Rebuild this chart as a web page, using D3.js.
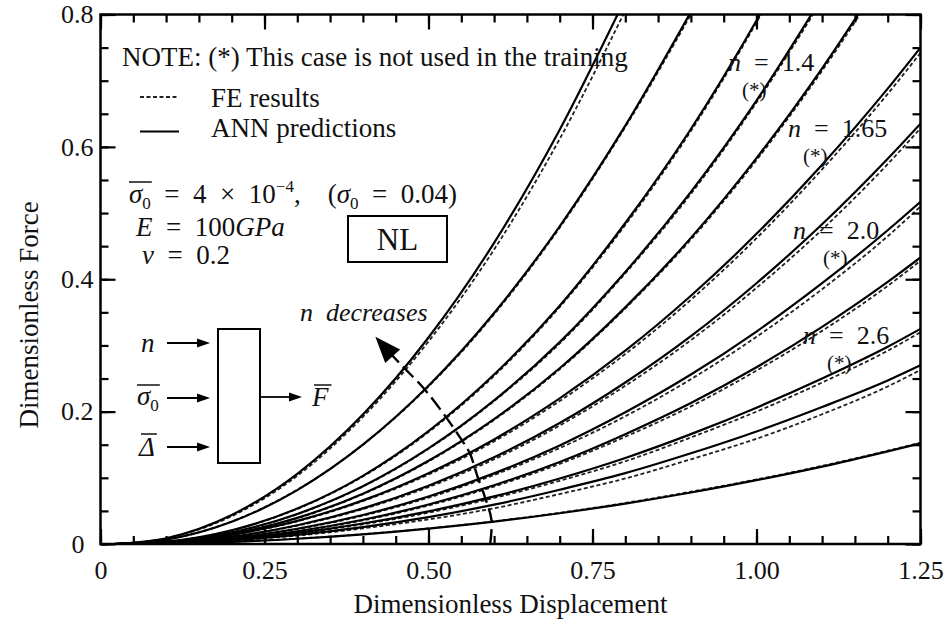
<!DOCTYPE html>
<html><head><meta charset="utf-8">
<script src="https://cdn.jsdelivr.net/npm/d3@7"></script>
<style>
body{margin:0;background:#fff}
text{font-family:"Liberation Serif","Times New Roman",serif;fill:#111;white-space:pre}
</style>
</head><body><svg id="c" width="948" height="622"></svg>
<script>
// ---------- data ----------
const disp = [0.02,0.1,0.2,0.3,0.4,0.5,0.6,0.7,0.8,0.9,1.0,1.1,1.2,1.25];
// ANN predictions (solid), steepest curve first
const ann01 = [0,0.0087,0.0439,0.106,0.1955,0.312,0.455,0.626,0.824];
const ann02 = [0,0.0066,0.0336,0.0814,0.150,0.239,0.349,0.480,0.632,0.804];
const ann03 = [0,0.0036,0.0207,0.0535,0.103,0.1705,0.256,0.360,0.485,0.627,0.791,0.975];
const ann04 = [0,0.0031,0.0175,0.0454,0.0874,0.1445,0.217,0.305,0.411,0.532,0.670,0.826];
const ann05 = [0,0.0027,0.0152,0.0395,0.076,0.1257,0.1887,0.2655,0.3575,0.4625,0.583,0.7187,0.869];
const ann06 = [0,0.0026,0.0140,0.0350,0.0659,0.107,0.158,0.220,0.292,0.375,0.4686,0.573,0.688,0.750];
const ann07 = [0,0.0020,0.0112,0.0284,0.0538,0.088,0.1309,0.1827,0.244,0.314,0.394,0.483,0.582,0.635];
const ann08 = [0,0.0017,0.0091,0.0231,0.0439,0.0717,0.1067,0.149,0.199,0.256,0.321,0.394,0.474,0.517];
const ann09 = [0,0.0014,0.0076,0.0193,0.0366,0.0597,0.0888,0.124,0.166,0.213,0.267,0.328,0.396,0.433];
const ann10 = [0,0.0014,0.0070,0.0168,0.031,0.0493,0.0720,0.0990,0.130,0.166,0.206,0.250,0.298,0.325];
const ann11 = [0,0.0011,0.0057,0.0138,0.0255,0.0406,0.0594,0.082,0.107,0.137,0.170,0.207,0.247,0.270];
const ann12 = [0,0.0006,0.0033,0.0079,0.0145,0.0232,0.0338,0.0465,0.0611,0.0778,0.0965,0.117,0.140,0.152];
// FE results (dotted)
const fe01 = [0,0.0085,0.042,0.103,0.192,0.306,0.445,0.612,0.806];
const fe02 = [0,0.0065,0.034,0.082,0.150,0.238,0.347,0.478,0.630,0.800];
const fe03 = [0,0.0035,0.0205,0.053,0.102,0.169,0.254,0.358,0.482,0.624,0.788,0.972];
const fe04 = [0,0.0030,0.0173,0.0450,0.0868,0.1438,0.216,0.303,0.409,0.529,0.667,0.822];
const fe05 = [0,0.0026,0.0150,0.0390,0.0752,0.1248,0.1875,0.2640,0.3560,0.4600,0.580,0.7150,0.865];
const fe06 = [0,0.0025,0.0136,0.0343,0.0648,0.105,0.155,0.216,0.287,0.369,0.4620,0.566,0.680,0.742];
const fe07 = [0,0.0019,0.0108,0.0277,0.0527,0.086,0.1280,0.1790,0.239,0.308,0.387,0.475,0.574,0.628];
const fe08 = [0,0.0016,0.0087,0.0224,0.0428,0.0700,0.1043,0.145,0.193,0.249,0.313,0.385,0.465,0.510];
const fe09 = [0,0.0013,0.0073,0.0187,0.0356,0.0582,0.0868,0.121,0.162,0.208,0.262,0.322,0.390,0.428];
const fe10 = [0,0.0013,0.0066,0.0160,0.0298,0.0474,0.0695,0.0955,0.125,0.161,0.200,0.244,0.292,0.320];
const fe11 = [0,0.0010,0.0052,0.0127,0.0236,0.0372,0.0540,0.0755,0.099,0.128,0.159,0.196,0.238,0.263];
const fe12 = [0,0.0006,0.0034,0.0081,0.0148,0.0236,0.0343,0.0472,0.0620,0.0790,0.0975,0.118,0.141,0.153];
const annSeries = [ann01,ann02,ann03,ann04,ann05,ann06,ann07,ann08,ann09,ann10,ann11,ann12];
const feSeries = [fe01,fe02,fe03,fe04,fe05,fe06,fe07,fe08,fe09,fe10,fe11,fe12];
// "n decreases" arrow path
const arrowDisp = [0.594,0.596,0.586,0.575,0.563,0.548,0.522,0.492,0.461,0.437];
const arrowForce = [0.0,0.036,0.071,0.101,0.137,0.161,0.198,0.236,0.268,0.293];
// ticks
const xTicks = [0,0.25,0.5,0.75,1.0,1.25];
const xTickLabels = ["0","0.25","0.50","0.75","1.00","1.25"];
const yTicks = [0,0.2,0.4,0.6,0.8];
const yTickLabels = ["0","0.2","0.4","0.6","0.8"];
const xMinor = d3.range(0,26).map(i=>i*0.05);
const yMinor = d3.range(0,17).map(i=>i*0.05);
const curveLabels = ["1.4","1.65","2.0","2.6"];

// ---------- drawing ----------
const svg = d3.select("#c");
const L=100.5,R=920.5,T=14.5,B=544;
const x = d3.scaleLinear().domain([0,1.25]).range([L,R]);
const y = d3.scaleLinear().domain([0,0.8]).range([B,T]);
const EN = "\u2002";

svg.append("defs").append("clipPath").attr("id","clip")
  .append("rect").attr("x",L).attr("y",T).attr("width",R-L).attr("height",B-T);

const line = d3.line().x((d,i)=>x(disp[i])).y(d=>y(d)).curve(d3.curveMonotoneX);
const gc = svg.append("g").attr("clip-path","url(#clip)");
feSeries.forEach(s=>{
  gc.append("path").attr("d",line(s)).attr("fill","none").attr("stroke","#222")
    .attr("stroke-width",1.8).attr("stroke-dasharray","4,2.5");
});
annSeries.forEach(s=>{
  gc.append("path").attr("d",line(s)).attr("fill","none").attr("stroke","#000")
    .attr("stroke-width",2.2);
});

// axes with inward ticks
function styleAxis(g){ g.select(".domain").remove(); g.selectAll("line").attr("stroke","#000").attr("stroke-width",2.2);
  g.selectAll("text").style("font-family",'"Liberation Serif",serif').style("font-size","26px").attr("fill","#111"); }
svg.append("g").attr("transform",`translate(0,${B})`)
  .call(d3.axisBottom(x).tickValues(xMinor).tickSize(-8).tickFormat("")).call(styleAxis);
svg.append("g").attr("transform",`translate(0,${B})`)
  .call(d3.axisBottom(x).tickValues(xTicks).tickSize(-15).tickPadding(17).tickFormat((d,i)=>xTickLabels[i])).call(styleAxis);
svg.append("g").attr("transform",`translate(0,${T})`)
  .call(d3.axisTop(x).tickValues(xMinor).tickSize(-8).tickFormat("")).call(styleAxis);
svg.append("g").attr("transform",`translate(0,${T})`)
  .call(d3.axisTop(x).tickValues(xTicks).tickSize(-15).tickFormat("")).call(styleAxis);
svg.append("g").attr("transform",`translate(${L},0)`)
  .call(d3.axisLeft(y).tickValues(yMinor).tickSize(-8).tickFormat("")).call(styleAxis);
const yl = svg.append("g").attr("transform",`translate(${L},0)`)
  .call(d3.axisLeft(y).tickValues(yTicks).tickSize(-15).tickPadding(7).tickFormat((d,i)=>yTickLabels[i])).call(styleAxis);
yl.selectAll("text").filter(d=>d===0).attr("x",-16);
svg.append("g").attr("transform",`translate(${R},0)`)
  .call(d3.axisRight(y).tickValues(yMinor).tickSize(-8).tickFormat("")).call(styleAxis);
svg.append("g").attr("transform",`translate(${R},0)`)
  .call(d3.axisRight(y).tickValues(yTicks).tickSize(-15).tickFormat("")).call(styleAxis);
svg.append("rect").attr("x",L).attr("y",T).attr("width",R-L).attr("height",B-T)
  .attr("fill","none").attr("stroke","#000").attr("stroke-width",2.5);

// axis titles
svg.append("text").attr("x",(L+R)/2).attr("y",613).attr("text-anchor","middle")
  .style("font-size","27px").text("Dimensionless Displacement");
svg.append("text").attr("transform","translate(38,315) rotate(-90)").attr("text-anchor","middle")
  .style("font-size","27px").text("Dimensionless Force");

// note + legend
svg.append("text").attr("x",122).attr("y",66).style("font-size","27px").text("NOTE: (*) This case is not used in the training");
svg.append("line").attr("x1",140).attr("x2",178).attr("y1",97).attr("y2",97).attr("stroke","#222").attr("stroke-width",1.8).attr("stroke-dasharray","4,2.5");
svg.append("text").attr("x",211).attr("y",107).style("font-size","27px").text("FE results");
svg.append("line").attr("x1",140).attr("x2",179).attr("y1",131.5).attr("y2",131.5).attr("stroke","#000").attr("stroke-width",2.2);
svg.append("text").attr("x",211).attr("y",137).style("font-size","27px").text("ANN predictions");

// parameter text
const t1 = svg.append("text").attr("x",129).attr("y",203).style("font-size","27px");
t1.append("tspan").style("font-style","italic").text("σ");
t1.append("tspan").attr("dy",6).style("font-size","17px").text("0");
t1.append("tspan").attr("dy",-6).text(EN+"="+EN+"4"+EN+"×"+EN+"10");
t1.append("tspan").attr("dy",-11).style("font-size","17px").text("−4");
t1.append("tspan").attr("dy",11).text(",\u2003(");
t1.append("tspan").style("font-style","italic").text("σ");
t1.append("tspan").attr("dy",6).style("font-size","17px").text("0");
t1.append("tspan").attr("dy",-6).text(EN+"="+EN+"0.04)");
const w1 = t1.node().getSubStringLength(0,2);
svg.append("line").attr("x1",129).attr("x2",129+w1+1).attr("y1",182).attr("y2",182).attr("stroke","#111").attr("stroke-width",1.5);

const t2 = svg.append("text").attr("x",136).attr("y",236).style("font-size","27px");
t2.append("tspan").style("font-style","italic").text("E");
t2.append("tspan").text(EN+"="+EN+"100");
t2.append("tspan").style("font-style","italic").text("GPa");
const t3 = svg.append("text").attr("x",142).attr("y",264).style("font-size","27px");
t3.append("tspan").style("font-style","italic").text("ν");
t3.append("tspan").text(EN+"="+EN+"0.2");

// NL box
svg.append("rect").attr("x",348).attr("y",216).attr("width",99).attr("height",46).attr("fill","none").attr("stroke","#000").attr("stroke-width",2);
svg.append("text").attr("x",397.5).attr("y",250).attr("text-anchor","middle").style("font-size","31px").text("NL");

// curve labels
const labPos = [[728,71,742,97],[788,137,803,163],[793,239,823,265],[803,344,827,370]];
curveLabels.forEach((v,i)=>{
  const p = labPos[i];
  const t = svg.append("text").attr("x",p[0]).attr("y",p[1]).style("font-size","26px");
  t.append("tspan").style("font-style","italic").text("n");
  t.append("tspan").text(EN+"="+EN+v);
  svg.append("text").attr("x",p[2]).attr("y",p[3]).style("font-size","21px").text("(*)");
});

// n decreases arrow
const ap = arrowDisp.map((d,i)=>[x(d),y(arrowForce[i])]);
svg.append("path").attr("d",d3.line().curve(d3.curveCatmullRom)(ap)).attr("fill","none")
  .attr("stroke","#000").attr("stroke-width",2.4).attr("stroke-dasharray","15,6");
const tip=[x(0.419),y(0.313)], base=ap[ap.length-1];
const dx=tip[0]-base[0], dy=tip[1]-base[1], len=Math.hypot(dx,dy), ux=dx/len, uy=dy/len;
const bx=tip[0]-ux*26, by=tip[1]-uy*26;
svg.append("path").attr("d",`M${tip[0]},${tip[1]}L${bx-uy*10},${by+ux*10}L${bx+uy*10},${by-ux*10}Z`).attr("fill","#000");
const nd = svg.append("text").attr("x",300).attr("y",321).style("font-size","26px").style("font-style","italic");
nd.text("n  decreases");

// block diagram
svg.append("rect").attr("x",218).attr("y",329).attr("width",42).attr("height",134).attr("fill","none").attr("stroke","#000").attr("stroke-width",2);
function arrow(x1,x2,yy){
  svg.append("line").attr("x1",x1).attr("x2",x2-10).attr("y1",yy).attr("y2",yy).attr("stroke","#000").attr("stroke-width",1.8);
  svg.append("path").attr("d",`M${x2},${yy}L${x2-13},${yy-4.5}L${x2-13},${yy+4.5}Z`).attr("fill","#000");
}
arrow(167,210,343); arrow(167,210,398); arrow(167,210,447); arrow(260,302,397);
svg.append("text").attr("x",141).attr("y",352).style("font-size","27px").style("font-style","italic").text("n");
const s2 = svg.append("text").attr("x",137).attr("y",405).style("font-size","27px");
s2.append("tspan").style("font-style","italic").text("σ");
s2.append("tspan").attr("dy",6).style("font-size","17px").text("0");
svg.append("line").attr("x1",137).attr("x2",137+s2.node().getSubStringLength(0,2)+1).attr("y1",385).attr("y2",385).attr("stroke","#111").attr("stroke-width",1.5);
const dl = svg.append("text").attr("x",139).attr("y",456).style("font-size","27px").style("font-style","italic").text("Δ");
svg.append("line").attr("x1",141).attr("x2",139+dl.node().getComputedTextLength()+2).attr("y1",434).attr("y2",434).attr("stroke","#111").attr("stroke-width",1.5);
const fb = svg.append("text").attr("x",312).attr("y",406).style("font-size","27px").style("font-style","italic").text("F");
svg.append("line").attr("x1",314).attr("x2",312+fb.node().getComputedTextLength()+3).attr("y1",385).attr("y2",385).attr("stroke","#111").attr("stroke-width",1.5);
</script></body></html>
